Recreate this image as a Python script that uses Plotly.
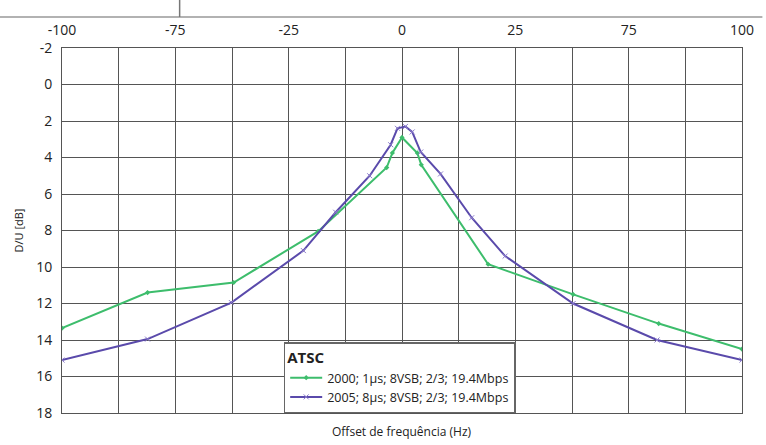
import plotly.graph_objects as go

# x positions are in grid-division units of the (non-linear) frequency-offset axis
tick_positions = list(range(13))
tick_labels = ["-100", "", "-75", "", "-25", "", "0", "", "25", "", "75", "", "100"]

x_2000 = [0, 1.51, 3.03, 4.52, 5.73, 5.83, 6.0, 6.27, 6.34, 7.52, 9.02, 10.53, 12]
y_2000 = [13.35, 11.4, 10.85, 8.05, 4.55, 3.75, 2.9, 3.75, 4.4, 9.85, 11.5, 13.1, 14.5]

x_2005 = [0, 1.51, 2.99, 4.26, 4.83, 5.43, 5.8, 5.92, 6.06, 6.18, 6.33, 6.68, 7.23, 7.82, 9.02, 10.5, 12]
y_2005 = [15.1, 13.95, 11.95, 9.1, 7.0, 5.0, 3.3, 2.4, 2.3, 2.6, 3.7, 4.9, 7.3, 9.4, 12.0, 14.0, 15.1]

y_ticks = [-2, 0, 2, 4, 6, 8, 10, 12, 14, 16, 18]

name_2000 = "2000; 1µs; 8VSB; 2/3; 19.4Mbps"
name_2005 = "2005; 8µs; 8VSB; 2/3; 19.4Mbps"

FONT = "Open Sans"

fig = go.Figure()
fig.add_trace(go.Scatter(
    x=x_2000, y=y_2000, mode="lines+markers", name=name_2000,
    line=dict(color="#3dbd6c", width=2),
    marker=dict(symbol="diamond", size=4, color="#3dbd6c"),
))
fig.add_trace(go.Scatter(
    x=x_2005, y=y_2005, mode="lines+markers", name=name_2005,
    line=dict(color="#5a4aab", width=2),
    marker=dict(symbol="x-thin", size=5, line=dict(width=1, color="#8a7acb")),
))

fig.update_layout(
    width=766, height=445,
    margin=dict(l=62, r=18, t=48, b=32),
    paper_bgcolor="white", plot_bgcolor="white",
    font=dict(family=FONT, color="#222"),
    showlegend=True,
    legend=dict(
        x=0.326, y=0, xanchor="left", yanchor="bottom",
        bgcolor="white", bordercolor="#666", borderwidth=1.5,
        title=dict(text="<b>ATSC</b>", font=dict(size=15, family=FONT)),
        font=dict(size=12.5, family=FONT),
        itemwidth=32,
        tracegroupgap=0,
    ),
    xaxis=dict(
        range=[0, 12], side="top",
        tickvals=tick_positions, ticktext=tick_labels,
        showgrid=True, gridcolor="#555", gridwidth=1,
        showline=True, linecolor="#555", linewidth=1, mirror=True,
        zeroline=False, ticks="", tickfont=dict(size=14),
        ticklabelstandoff=6,
        title=None,
    ),
    yaxis=dict(
        range=[18, -2], tickvals=y_ticks,
        ticktext=[str(v) for v in y_ticks],
        showgrid=True, gridcolor="#555", gridwidth=1,
        showline=True, linecolor="#555", linewidth=1, mirror=True,
        zeroline=False, ticks="", tickfont=dict(size=14),
        ticklabelstandoff=6,
        title=dict(text="D/U [dB]", font=dict(size=11), standoff=10),
    ),
    annotations=[
        dict(text="Offset de frequência (Hz)", xref="paper", yref="paper",
             x=0.5, y=-0.052, xanchor="center", yanchor="middle",
             showarrow=False, font=dict(size=12)),
    ],
    shapes=[
        dict(type="line", xref="paper", yref="paper", x0=-0.1, x1=1.03,
             y0=1.085, y1=1.085, line=dict(color="#999", width=1.5)),
        dict(type="line", xref="paper", yref="paper", x0=0.173, x1=0.173,
             y0=1.085, y1=1.135, line=dict(color="#777", width=1.5)),
    ],
)

fig.write_html("out.html")
